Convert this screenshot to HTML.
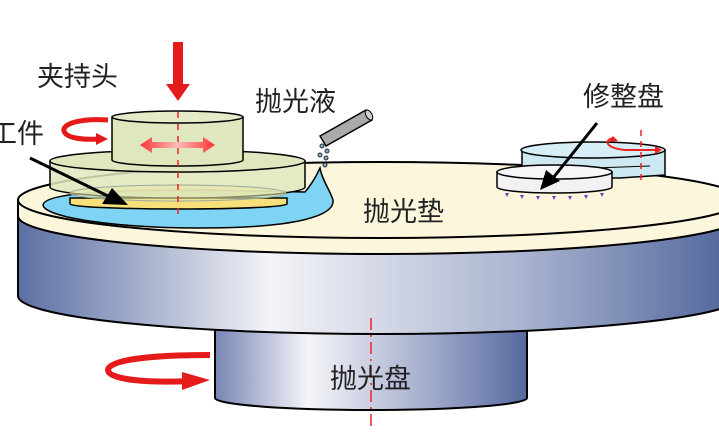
<!DOCTYPE html>
<html><head><meta charset="utf-8"><style>
html,body{margin:0;padding:0;background:#fff;width:719px;height:437px;overflow:hidden}
text{font-family:"Liberation Sans","Noto Sans CJK SC",sans-serif;fill:#222}
</style></head><body>
<svg width="719" height="437" viewBox="0 0 719 437" xmlns="http://www.w3.org/2000/svg">
<defs>
<linearGradient id="bl" x1="0" x2="1" y1="0" y2="0">
<stop offset="0" stop-color="#5c6fa3"/><stop offset="0.35" stop-color="#f4f4f8"/><stop offset="0.7" stop-color="#a9b3cf"/><stop offset="1" stop-color="#4d629a"/></linearGradient>
<linearGradient id="bl2" x1="0" x2="1" y1="0" y2="0">
<stop offset="0" stop-color="#7885b5"/><stop offset="0.3" stop-color="#f5f5f8"/><stop offset="0.65" stop-color="#aab3d0"/><stop offset="1" stop-color="#56699f"/></linearGradient>
<linearGradient id="ra" x1="0" x2="1"><stop offset="0" stop-color="#f33"/><stop offset="0.5" stop-color="#fbb"/><stop offset="1" stop-color="#f33"/></linearGradient>
</defs>
<!-- spindle -->
<path d="M215 300 L215 398 A156 12 0 0 0 527 398 L527 300 Z" fill="url(#bl2)" stroke="#000" stroke-width="2"/>
<!-- platter -->
<path d="M18 216 L18 296 A362 38 0 0 0 742 296 L742 216 Z" fill="url(#bl)" stroke="#000" stroke-width="2"/>
<!-- pad side -->
<path d="M18 200 L18 216 A362 38 0 0 0 742 216 L742 200 Z" fill="#fbf6dc" stroke="#000" stroke-width="2"/>
<ellipse cx="380" cy="200" rx="362" ry="38" fill="#fbf6dc" stroke="#000" stroke-width="2"/>
<!-- slurry -->
<path d="M43 205 C45 192 120 190 200 190 L305 192 C315 180 318 172 320 168 C322 180 330 190 333 200 C335 215 300 228 200 228 C120 228 45 218 43 205 Z" fill="#7fd4f4" stroke="#000" stroke-width="1.5"/>
<!-- wafer -->
<path d="M70 198 L70 204 A108 5 0 0 0 287 204 L287 198 Z" fill="#f7e07a" stroke="#000" stroke-width="1.5"/>
<!-- carrier -->
<path d="M50 161 L50 187 A127 11 0 0 0 305 187 L305 161 Z" fill="#dfe7bf" fill-opacity="0.85" stroke="#000" stroke-width="1.5"/>
<ellipse cx="177.5" cy="161" rx="127.5" ry="11" fill="#dfe7bf" stroke="#000" stroke-width="1.5"/>
<ellipse cx="178" cy="193" rx="108" ry="8" fill="#e8e6a8" fill-opacity="0.6" stroke="#9a9" stroke-width="1"/>
<!-- head -->
<path d="M112 117 L112 160 A65.5 6 0 0 0 243 160 L243 117 Z" fill="#dfe7bf" stroke="#000" stroke-width="1.5"/>
<ellipse cx="177.5" cy="117" rx="65.5" ry="6" fill="#e4ebc8" stroke="#000" stroke-width="1.5"/>
<path d="M140 145 L152 137 L152 142 L203 142 L203 137 L215 145 L203 153 L203 148 L152 148 L152 153 Z" fill="url(#ra)"/>
<line x1="178" y1="112" x2="178" y2="214" stroke="#e22" stroke-width="1.5" stroke-dasharray="6 6"/>
<!-- down arrow -->
<path d="M173 42 L183 42 L183 84 L190 84 L178 101 L166 84 L173 84 Z" fill="#e51a1a"/>
<!-- rotation arrow head -->
<path d="M108 120 C80 118 62 124 64 131 C66 138 82 140 98 139" fill="none" stroke="#e51a1a" stroke-width="5"/>
<path d="M96 133 L108 139 L96 145 Z" fill="#e51a1a"/>
<!-- slurry tube -->
<path d="M320 136 L366 110 L372 120 L326 146 Z" fill="#aaa" stroke="#000" stroke-width="1.5"/>
<ellipse cx="369" cy="115" rx="3" ry="5.5" transform="rotate(-30 369 115)" fill="#ccc" stroke="#000" stroke-width="1"/>
<g fill="#8ab" stroke="#234" stroke-width="1"><circle cx="322" cy="146" r="2"/><circle cx="327" cy="151" r="2"/><circle cx="320" cy="155" r="2"/><circle cx="326" cy="158" r="2"/><circle cx="325" cy="165" r="2"/></g>
<!-- black arrow workpiece -->
<line x1="30" y1="158" x2="112" y2="198" stroke="#000" stroke-width="3"/>
<path d="M128 205 L102 204 L112 188 Z" fill="#000"/>
<!-- dresser arm -->
<path d="M522 150 L522 178 L612 178 L612 178 L620 178 L620 178 L665 175 L665 150 Z" fill="#cde8f0" stroke="#000" stroke-width="1.5"/>
<ellipse cx="593" cy="150" rx="72" ry="8" fill="#d6eef5" stroke="#000" stroke-width="1.5"/>
<line x1="595" y1="168" x2="650" y2="166" stroke="#000" stroke-width="1"/>
<!-- dresser disk -->
<path d="M497 172 L497 187 A57.5 6 0 0 0 612 187 L612 172 Z" fill="#f2f2f4" stroke="#000" stroke-width="1.5"/>
<ellipse cx="554.5" cy="172" rx="57.5" ry="7" fill="#f6f6f8" stroke="#000" stroke-width="1.5"/>
<g fill="#7a3fc0"><path d="M505 193 l4 0 l-2 4z"/><path d="M520 195 l4 0 l-2 4z"/><path d="M536 196 l4 0 l-2 4z"/><path d="M552 196 l4 0 l-2 4z"/><path d="M568 196 l4 0 l-2 4z"/><path d="M584 195 l4 0 l-2 4z"/><path d="M600 193 l4 0 l-2 4z"/></g>
<!-- dresser red marks -->
<line x1="641" y1="130" x2="641" y2="180" stroke="#e22" stroke-width="1.5" stroke-dasharray="6 5"/>
<path d="M613 138 C604 140 605 148 625 150 L655 150" fill="none" stroke="#e22" stroke-width="2"/>
<path d="M655 146 L662 150 L655 154 Z" fill="#e22"/><path d="M609 142 L613 136 L618 141 Z" fill="#e22"/>
<line x1="597" y1="123" x2="553" y2="178" stroke="#000" stroke-width="3"/>
<path d="M540 190 L546 170 L560 181 Z" fill="#000"/>
<!-- spindle axis & rotation -->
<line x1="371" y1="318" x2="371" y2="428" stroke="#e22" stroke-width="1.5" stroke-dasharray="12 5 2 5"/>
<path d="M210 355 C150 355 108 360 108 370 C108 380 150 383 190 381" fill="none" stroke="#e51a1a" stroke-width="6"/>
<path d="M182 372 L210 380 L182 390 Z" fill="#e51a1a"/>
<!-- labels -->
<text x="37" y="86" font-size="27">夹持头</text>
<text x="255" y="111" font-size="27">抛光液</text>
<text x="-10" y="143" font-size="27">工件</text>
<text x="583" y="106" font-size="27">修整盘</text>
<text x="363" y="221" font-size="27">抛光垫</text>
<text x="330" y="388" font-size="27">抛光盘</text>
</svg>
</body></html>
